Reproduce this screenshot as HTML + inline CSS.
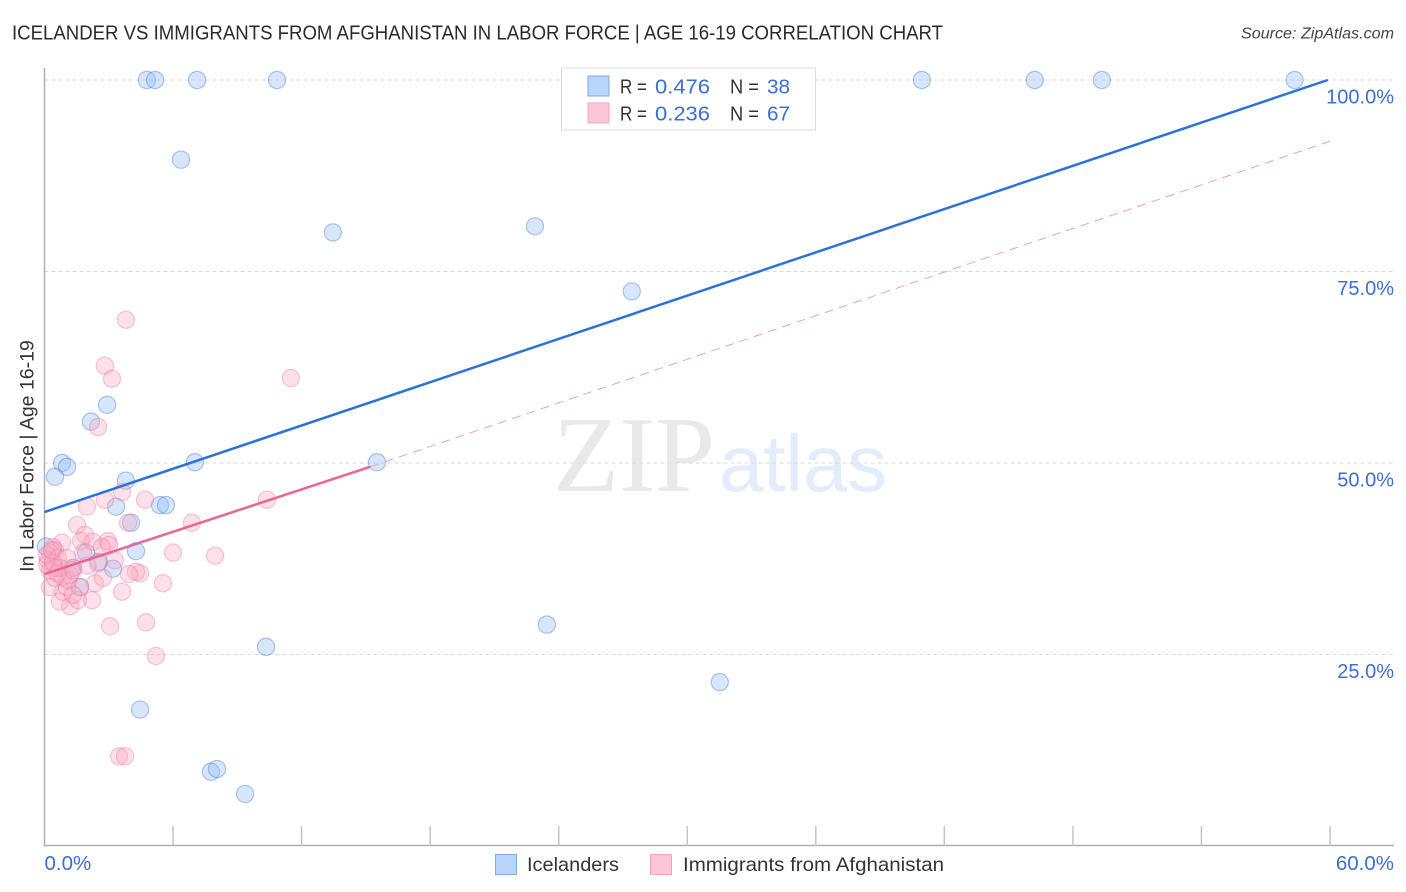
<!DOCTYPE html>
<html>
<head>
<meta charset="utf-8">
<style>
html,body{margin:0;padding:0;background:#fff;}
svg{display:block;font-family:"Liberation Sans",sans-serif;}
</style>
</head>
<body>
<svg id="chart" width="1406" height="892" viewBox="0 0 1406 892" xmlns="http://www.w3.org/2000/svg">
<text x="12" y="39.5" font-size="20" fill="#2b2b2b" textLength="931" lengthAdjust="spacingAndGlyphs">ICELANDER VS IMMIGRANTS FROM AFGHANISTAN IN LABOR FORCE | AGE 16-19 CORRELATION CHART</text>
<text x="1394" y="38.5" font-size="15.5" font-style="italic" fill="#444" text-anchor="end" textLength="153" lengthAdjust="spacingAndGlyphs">Source: ZipAtlas.com</text>
<g>
<text x="553" y="491" font-family="'Liberation Serif',serif" font-size="108" fill="#e9e9e9" textLength="162" lengthAdjust="spacingAndGlyphs">ZIP</text>
<text x="719" y="491" font-size="80" fill="#e3ecf9" textLength="168" lengthAdjust="spacingAndGlyphs">atlas</text>
</g>
<g id="grid"></g>
<g id="axes"></g>
<g id="points"></g>
<g id="trends"></g>
<g>
<rect x="561.5" y="68" width="254" height="62" fill="#fff" stroke="#dcdcdc" stroke-width="1"></rect>
<rect x="588" y="76" width="21" height="20" fill="#b9d5fa" stroke="#7faae6" stroke-width="1"></rect>
<rect x="588" y="103" width="21" height="20" fill="#fcc6d8" stroke="#f2a5bf" stroke-width="1"></rect>
<text x="620" y="93.5" font-size="20" fill="#333" textLength="27" lengthAdjust="spacingAndGlyphs">R =</text>
<text x="655" y="93.5" font-size="20.5" fill="#3a70d0" textLength="55" lengthAdjust="spacingAndGlyphs">0.476</text>
<text x="730" y="93.5" font-size="20" fill="#333" textLength="29" lengthAdjust="spacingAndGlyphs">N =</text>
<text x="767" y="93.5" font-size="20.5" fill="#3a70d0" textLength="23" lengthAdjust="spacingAndGlyphs">38</text>
<text x="620" y="120.5" font-size="20" fill="#333" textLength="27" lengthAdjust="spacingAndGlyphs">R =</text>
<text x="655" y="120.5" font-size="20.5" fill="#3a70d0" textLength="55" lengthAdjust="spacingAndGlyphs">0.236</text>
<text x="730" y="120.5" font-size="20" fill="#333" textLength="29" lengthAdjust="spacingAndGlyphs">N =</text>
<text x="767" y="120.5" font-size="20.5" fill="#3a70d0" textLength="23" lengthAdjust="spacingAndGlyphs">67</text>
</g>
<text transform="translate(33.5,456)rotate(-90)" font-size="19.5" fill="#333" text-anchor="middle">In Labor Force | Age 16-19</text>
<g>
<rect x="495.5" y="854.5" width="21" height="20" fill="#b9d5fa" stroke="#7faae6" stroke-width="1"></rect>
<text x="527" y="871" font-size="19.5" fill="#333" textLength="92" lengthAdjust="spacingAndGlyphs">Icelanders</text>
<rect x="650.5" y="854.5" width="21" height="20" fill="#fcc6d8" stroke="#f2a5bf" stroke-width="1"></rect>
<text x="683" y="871" font-size="19.5" fill="#333" textLength="261" lengthAdjust="spacingAndGlyphs">Immigrants from Afghanistan</text>
</g>
</svg>
<script>
const xTickValues = [0,6,12,18,24,30,36,42,48,54,60];
const yGridValues = [100,75,50,25];
const yTickLabels = ["100.0%","75.0%","50.0%","25.0%"];
const xEdgeValues = [0,60];
const xEdgeLabels = ["0.0%","60.0%"];
const blueX = [4.78,5.16,7.12,10.85,40.95,46.22,49.35,58.35,6.37,13.46,22.89,27.41,2.92,2.17,0.82,1.05,0.49,7.02,15.52,3.80,3.34,5.39,5.67,4.04,4.27,1.94,2.54,3.20,1.66,0.06,1.33,23.45,10.34,31.52,4.46,7.77,8.05,9.36];
const blueY = [100,100,100,100,100,100,100,100,89.6,80.1,80.9,72.4,57.6,55.4,50.0,49.5,48.2,50.1,50.1,47.7,44.3,44.5,44.5,42.2,38.5,38.3,37.1,36.2,33.8,39.1,36.3,28.9,26.0,21.4,17.8,9.7,10.05,6.8];
const pinkX = [3.80,2.82,3.15,11.50,2.50,3.48,3.76,3.62,2.82,4.69,1.98,10.38,1.52,3.90,6.88,1.89,1.70,2.26,2.96,3.01,2.68,0.82,6.00,7.96,5.53,4.46,4.27,3.94,3.62,2.36,2.73,3.29,2.22,1.19,0.72,1.56,0.86,0.26,3.06,4.74,5.20,1.80,2.50,1.33,1.66,1.05,1.33,0.49,0.86,1.10,0.49,0.26,0.40,0.16,0.12,0.63,1.05,0.49,0.72,1.19,1.33,0.12,0.26,0.40,0.35,0.60,2.00];
const pinkY = [68.7,62.7,61.0,61.1,54.7,11.7,11.7,46.2,45.2,45.2,44.3,45.2,41.9,42.2,42.2,40.6,39.8,39.7,39.8,39.3,39.0,39.6,38.3,37.9,34.3,35.6,35.8,35.5,33.2,34.3,35.0,37.3,32.1,31.3,31.9,32.1,33.2,33.8,28.7,29.2,24.8,38.3,36.9,36.3,33.8,33.8,32.8,35.0,35.1,34.7,38.6,38.3,39.0,37.3,36.7,37.6,37.6,36.3,36.3,35.4,36.0,38.0,36.0,37.0,38.6,35.6,36.6];
const blueTrendX = [0,59.9];
const blueTrendY = [43.6,100];
const pinkSolidX = [0,15.2];
const pinkSolidY = [35.5,49.5];
const pinkDashX = [15.2,60];
const pinkDashY = [49.5,92];

const NS = "http://www.w3.org/2000/svg";
function sx(v){ return 44.5 + v * (1330 - 44.5) / 60; }
function sy(v){ return 846 - v * (846 - 80) / 100; }
function make(parent, tag, attrs, text){
  const el = document.createElementNS(NS, tag);
  for (const k in attrs) el.setAttribute(k, attrs[k]);
  if (text !== undefined) el.textContent = text;
  parent.appendChild(el);
  return el;
}
const grid = document.getElementById('grid');
const axes = document.getElementById('axes');
const points = document.getElementById('points');
const trends = document.getElementById('trends');

yGridValues.forEach(function(v, i){
  const line = make(grid, 'line', {x1:44.5, x2:1394, y1:sy(v), y2:sy(v), stroke:'#dadada', 'stroke-width':1, 'stroke-dasharray':'4 3'});
  
  
  const label = make(axes, 'text', {x:1394, y:sy(v)+23.7, 'font-size':20, fill:'#3a70d0', 'text-anchor':'end'}, yTickLabels[i]);
  
  
});

const yAxis = make(axes, 'line', {x1:44.5, x2:44.5, y1:68, y2:846.5, stroke:'#b0b0b0', 'stroke-width':1.5});


const xAxis = make(axes, 'line', {x1:44, x2:1394, y1:845.5, y2:845.5, stroke:'#b0b0b0', 'stroke-width':1.5});



xTickValues.slice(1).forEach(function(v){
  const tick = make(axes, 'line', {x1:sx(v), x2:sx(v), y1:826, y2:846, stroke:'#c4c4c4', 'stroke-width':1.5});
  
  
});
xEdgeValues.forEach(function(v, i){
  const lx = i === 0 ? sx(v) : 1394;
  const label = make(axes, 'text', {x:lx, y:870, 'font-size':20.5, fill:'#3a70d0', 'text-anchor': i === 0 ? 'start' : 'end'}, xEdgeLabels[i]);
  
  
});

blueX.forEach(function(v, i){
  const c = make(points, 'circle', {cx:sx(v), cy:sy(blueY[i]), r:8.6, fill:'rgba(150,190,245,0.38)', stroke:'rgba(70,125,215,0.42)', 'stroke-width':1.2});
  
  
});
pinkX.forEach(function(v, i){
  const c = make(points, 'circle', {cx:sx(v), cy:sy(pinkY[i]), r:8.6, fill:'rgba(250,170,195,0.36)', stroke:'rgba(235,115,155,0.38)', 'stroke-width':1.2});
  
  
});

const t1 = make(trends, 'line', {x1:sx(blueTrendX[0]), y1:sy(blueTrendY[0]), x2:sx(blueTrendX[1]), y2:sy(blueTrendY[1]), stroke:'#2b72d8', 'stroke-width':2.5});


const t2 = make(trends, 'line', {x1:sx(pinkSolidX[0]), y1:sy(pinkSolidY[0]), x2:sx(pinkSolidX[1]), y2:sy(pinkSolidY[1]), stroke:'#ea6593', 'stroke-width':2.5});


const t3 = make(trends, 'line', {x1:sx(pinkDashX[0]), y1:sy(pinkDashY[0]), x2:sx(pinkDashX[1]), y2:sy(pinkDashY[1]), stroke:'#eea0bb', 'stroke-width':1, 'stroke-dasharray':'9 6'});


</script>
</body>
</html>
